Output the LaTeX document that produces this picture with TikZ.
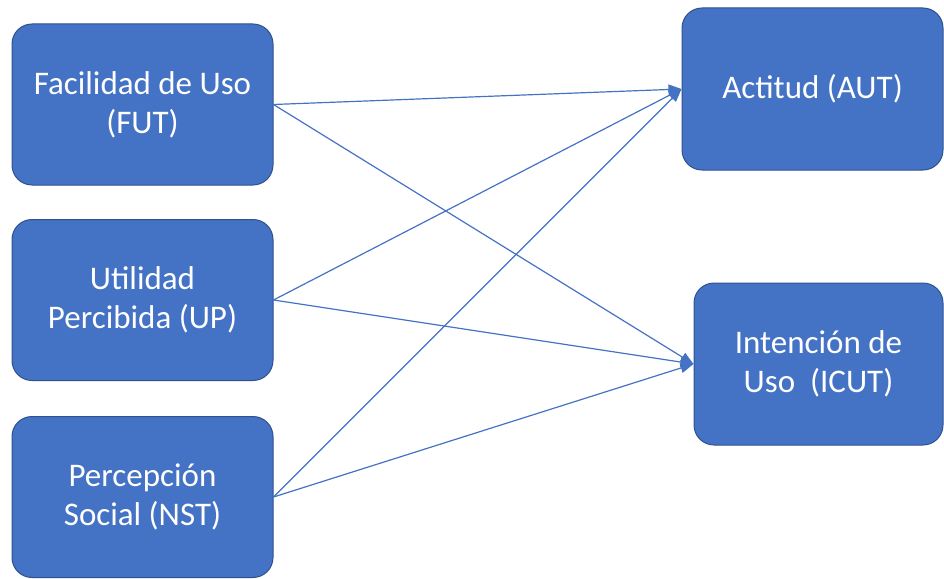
\documentclass[tikz,border=0pt]{standalone}
\usepackage{fontspec}
\setmainfont{Carlito}
\usetikzlibrary{arrows.meta}
\definecolor{boxblue}{HTML}{4472C4}
\definecolor{boxedge}{HTML}{2F528F}
\begin{document}
\begin{tikzpicture}[x=1pt, y=-1pt,
        construct/.style={rectangle, rounded corners=20pt, draw=boxedge, line width=1pt, fill=boxblue, text=white, align=center, font=\fontsize{33}{39}\selectfont, inner sep=0pt},
        link/.style={draw=boxblue, line width=1.2pt, -{Triangle[length=13pt,width=10pt]}}]
        \useasboundingbox (0,0) rectangle (944,578);

        % Predictor constructs
        \node[construct, minimum width=261pt, minimum height=161pt] (fut) at (142.5,104.5) {Facilidad de Uso\\(FUT)};
        \node[construct, minimum width=261pt, minimum height=161pt] (up) at (142.5,300) {Utilidad\\Percibida (UP)};
        \node[construct, minimum width=261pt, minimum height=161pt] (nst) at (142.5,497) {Percepción\\Social (NST)};

        % Outcome constructs
        \node[construct, minimum width=261pt, minimum height=162pt] (aut) at (812.5,89) {Actitud (AUT)};
        \node[construct, minimum width=249pt, minimum height=162pt] (icut) at (818.5,364) {Intención de\\Uso\ \ (ICUT)};

        % Arrows
        \draw[link] (fut.east) -- (aut.west);
        \draw[link] (fut.east) -- (icut.west);
        \draw[link] (up.east) -- (aut.west);
        \draw[link] (up.east) -- (icut.west);
        \draw[link] (nst.east) -- (aut.west);
        \draw[link] (nst.east) -- (icut.west);
    \end{tikzpicture}
\end{document}
